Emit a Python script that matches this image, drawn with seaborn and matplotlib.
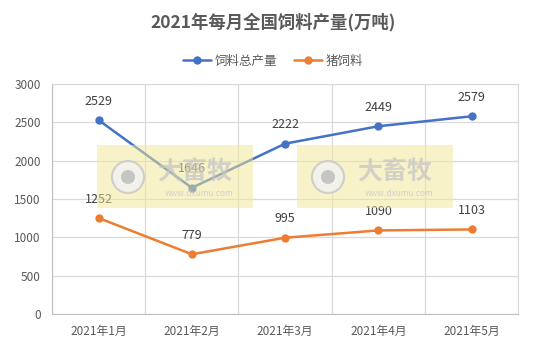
import matplotlib
matplotlib.use("Agg")
import matplotlib.pyplot as plt
import seaborn as sns
import pandas as pd
from matplotlib.patches import Rectangle, Circle

months = ["2021年1月", "2021年2月", "2021年3月", "2021年4月", "2021年5月"]
total_feed = [2529, 1646, 2222, 2449, 2579]
pig_feed = [1252, 779, 995, 1090, 1103]
series_names = ["饲料总产量", "猪饲料"]

df = pd.DataFrame({
    "month": months * 2,
    "value": total_feed + pig_feed,
    "series": [series_names[0]] * len(months) + [series_names[1]] * len(months),
})
df["x"] = list(range(len(months))) * 2

sns.set_style("white")
plt.rcParams['font.family'] = ['Noto Sans CJK SC', 'DejaVu Sans']

fig = plt.figure(figsize=(5.46, 3.53), dpi=100)
ax = fig.add_axes([0.0952, 0.1105, 0.854, 0.6515])

colors = {"饲料总产量": "#4472C4", "猪饲料": "#ED7D31"}
sns.lineplot(data=df, x="x", y="value", hue="series", palette=colors, marker="o",
             markersize=6, markeredgewidth=0, linewidth=1.8, ax=ax, legend=False)

for vals in (total_feed, pig_feed):
    for i, v in enumerate(vals):
        ax.annotate(str(v), (i, v), xytext=(0, 9), textcoords="offset points",
                    ha="center", va="bottom", fontsize=9, color="#404040", zorder=10)

ax.set_xlim(-0.5, len(months) - 0.5)
ax.set_ylim(0, 3000)
ax.set_yticks(range(0, 3001, 500))
ax.set_xticks(range(len(months)))
ax.set_xticklabels(months)
ax.set_xticks([i + 0.5 for i in range(-1, len(months))], minor=True)
ax.grid(axis="y", color="#D9D9D9", linewidth=0.9)
ax.grid(axis="x", which="minor", color="#D9D9D9", linewidth=0.9)
ax.tick_params(axis="both", which="both", length=0, labelsize=8.5, labelcolor="#595959", pad=8)
ax.set_xlabel("")
ax.set_ylabel("")
for s in ax.spines.values():
    s.set_color("#D9D9D9")
ax.spines["left"].set_color("#BFBFBF")
ax.spines["bottom"].set_color("#BFBFBF")

fig.text(0.5, 0.937, "2021年每月全国饲料产量(万吨)", ha="center", va="center",
         fontsize=12.5, fontweight="bold", color="#595959")

# legend
handles = [plt.Line2D([0], [0], color=colors[n], marker="o", markersize=5, linewidth=1.8)
           for n in series_names]
fig.legend(handles, series_names, loc="center", bbox_to_anchor=(0.5, 0.827), ncol=2,
           frameon=False, fontsize=9, labelcolor="#595959", handlelength=2.2,
           columnspacing=1.4, handletextpad=0.3)

# watermark boxes (pixel coordinates of the reference)
px = fig.dpi_scale_trans
for x0 in (97, 297):
    fig.patches.append(Rectangle((x0 / 100, (353 - 208) / 100), 156 / 100, 63 / 100,
                                 transform=px, facecolor="#F3E795",
                                 alpha=0.5, edgecolor="none", zorder=5))
    fig.patches.append(Circle(((x0 + 31) / 100, (353 - 177) / 100), 0.16,
                              transform=px, facecolor="#F2F2F2", edgecolor="#C8C8C8",
                              linewidth=1.5, alpha=0.85, zorder=6))
    fig.patches.append(Circle(((x0 + 31) / 100, (353 - 177) / 100), 0.07,
                              transform=px, facecolor="#BDBDBD", edgecolor="none",
                              alpha=0.85, zorder=7))
    fig.text((x0 + 98) / 100 / 5.46, 1 - 172 / 353, "大畜牧", ha="center", va="center",
             fontsize=18, fontweight="bold", color="#C4C4C4", alpha=0.7, zorder=6)
    fig.text((x0 + 102) / 100 / 5.46, 1 - 193 / 353, "www.dxumu.com", ha="center",
             va="center", fontsize=6, color="#C8C8C8", alpha=0.8, zorder=6)

fig.savefig("out.png", dpi=100)
